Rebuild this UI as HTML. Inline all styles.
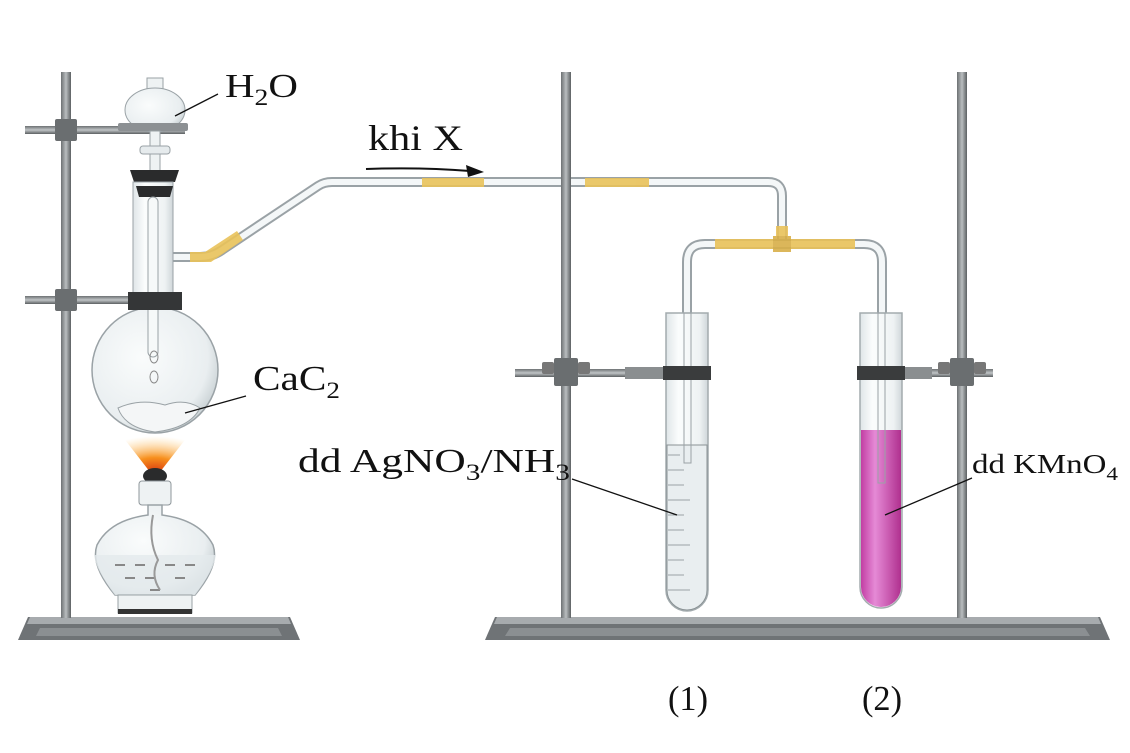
<!DOCTYPE html>
<html><head><meta charset="utf-8"><style>
html,body{margin:0;padding:0;background:#fff;}
svg{display:block;}
text{font-family:"Liberation Serif",serif;fill:#111;}
</style></head><body>
<svg width="1130" height="753" viewBox="0 0 1130 753" xmlns="http://www.w3.org/2000/svg">
<defs>
<linearGradient id="rod" x1="0" x2="1"><stop offset="0" stop-color="#6d7173"/><stop offset=".5" stop-color="#b9bdbf"/><stop offset="1" stop-color="#5c6062"/></linearGradient>
<linearGradient id="hrod" x1="0" y1="0" x2="0" y2="1"><stop offset="0" stop-color="#6d7173"/><stop offset=".5" stop-color="#c0c4c6"/><stop offset="1" stop-color="#5c6062"/></linearGradient>
<linearGradient id="glass" x1="0" x2="1"><stop offset="0" stop-color="#dfe5e8"/><stop offset=".3" stop-color="#fbfdfd"/><stop offset=".8" stop-color="#eef2f3"/><stop offset="1" stop-color="#cfd6d9"/></linearGradient>
<linearGradient id="pink" x1="0" x2="1"><stop offset="0" stop-color="#c23ea3"/><stop offset=".35" stop-color="#e58ad6"/><stop offset="1" stop-color="#b0308f"/></linearGradient>
<radialGradient id="flask" cx=".4" cy=".4" r=".65"><stop offset="0" stop-color="#fafcfc"/><stop offset=".8" stop-color="#e9eef0"/><stop offset="1" stop-color="#c9d1d4"/></radialGradient>
<radialGradient id="flame" cx=".5" cy="1" r="1"><stop offset="0" stop-color="#d83a10"/><stop offset=".4" stop-color="#f7901e"/><stop offset="1" stop-color="#ffd58a" stop-opacity="0"/></radialGradient>
</defs>

<path d="M28 617 L290 617 L300 640 L18 640 Z" fill="#6f7376"/>
<path d="M30 617 L288 617 L291 624 L27 624 Z" fill="#a7abae"/>
<path d="M40 628 L278 628 L282 636 L36 636 Z" fill="#8b8f92"/>
<rect x="61" y="72" width="10" height="546" fill="url(#rod)"/>
<rect x="25" y="126" width="160" height="8" fill="url(#hrod)"/>
<rect x="55" y="119" width="22" height="22" rx="2" fill="#6a6e70"/>
<rect x="25" y="296" width="110" height="8" fill="url(#hrod)"/>
<rect x="55" y="289" width="22" height="22" rx="2" fill="#6a6e70"/>

<g fill="none" stroke-linecap="round" stroke-linejoin="round">
<path d="M173 257 L200 257 Q212 257 222 250 L318 186 Q324 182 332 182 L768 182 Q782 182 782 196 L782 244" stroke="#9aa2a6" stroke-width="10"/>
<path d="M173 257 L200 257 Q212 257 222 250 L318 186 Q324 182 332 182 L768 182 Q782 182 782 196 L782 244" stroke="#f4f7f8" stroke-width="6"/>
<path d="M687 460 L687 262 Q687 244 705 244 L864 244 Q882 244 882 262 L882 480" stroke="#9aa2a6" stroke-width="10"/>
<path d="M687 460 L687 262 Q687 244 705 244 L864 244 Q882 244 882 262 L882 480" stroke="#f4f7f8" stroke-width="6"/>
</g>
<g fill="#e9c25a" opacity=".9">
<path d="M190 252 L205 252 L237 231 L243 240 L211 262 L190 262 Z"/>
<rect x="422" y="178" width="62" height="9"/>
<rect x="585" y="178" width="64" height="9"/>
<rect x="715" y="239" width="140" height="10"/>
<rect x="776" y="226" width="12" height="24"/>
<rect x="773" y="236" width="18" height="16" fill="#d9b04a"/>
</g>

<rect x="147" y="78" width="16" height="20" fill="#eef2f3" stroke="#9aa2a6"/>
<ellipse cx="155" cy="110" rx="30" ry="22" fill="url(#flask)" stroke="#9aa2a6"/>
<rect x="118" y="123" width="70" height="8" rx="2" fill="#8c9093"/>
<rect x="150" y="131" width="10" height="40" fill="#eef2f3" stroke="#9aa2a6"/>
<rect x="140" y="146" width="30" height="8" rx="3" fill="#e6ebed" stroke="#9aa2a6"/>
<path d="M130 170 L179 170 L175 182 L134 182 Z" fill="#2a2b2c"/>
<rect x="133" y="182" width="40" height="112" fill="url(#glass)" stroke="#9aa2a6"/>
<path d="M136 186 L173 186 L170 197 L139 197 Z" fill="#2a2b2c"/>
<rect x="148" y="197" width="10" height="160" rx="5" fill="#f6f9f9" stroke="#9aa2a6"/>
<circle cx="155" cy="370" r="63" fill="url(#flask)" stroke="#9aa2a6" stroke-width="1.5"/>
<rect x="148" y="300" width="10" height="57" rx="5" fill="#f6f9f9" stroke="#9aa2a6"/>
<rect x="128" y="292" width="54" height="18" fill="#343637"/>
<ellipse cx="154" cy="357" rx="4" ry="6" fill="none" stroke="#888"/>
<ellipse cx="154" cy="377" rx="4" ry="6" fill="none" stroke="#888"/>
<path d="M118 408 Q140 398 165 405 Q185 398 200 408 Q190 428 155 432 Q125 428 118 408 Z" fill="#f4f6f7" stroke="#9aa2a6"/>
<path d="M122 436 L188 436 L160 472 L150 472 Z" fill="url(#flame)"/>
<ellipse cx="155" cy="476" rx="12" ry="8" fill="#2a2b2c"/>
<rect x="139" y="481" width="32" height="24" rx="3" fill="#eef2f3" stroke="#8f979b"/>
<path d="M148 505 L148 515 Q110 520 97 545 Q90 565 115 595 L195 595 Q220 565 213 545 Q200 520 162 515 L162 505 Z" fill="url(#flask)" stroke="#9aa2a6" stroke-width="1.5"/>
<path d="M94 555 L216 555 Q214 570 195 595 L115 595 Q96 570 94 555 Z" fill="#e4eaec" opacity=".8"/>
<g stroke="#888" stroke-width="2"><line x1="115" y1="565" x2="125" y2="565"/><line x1="135" y1="565" x2="145" y2="565"/><line x1="165" y1="565" x2="175" y2="565"/><line x1="185" y1="565" x2="195" y2="565"/><line x1="125" y1="578" x2="135" y2="578"/><line x1="145" y1="578" x2="155" y2="578"/><line x1="175" y1="578" x2="185" y2="578"/><line x1="150" y1="590" x2="160" y2="590"/></g>
<path d="M153 515 Q148 540 158 560 Q150 575 160 590" fill="none" stroke="#999" stroke-width="2"/>
<rect x="118" y="595" width="74" height="18" fill="#eef2f3" stroke="#9aa2a6"/>
<rect x="118" y="609" width="74" height="5" fill="#333"/>

<path d="M495 617 L1100 617 L1110 640 L485 640 Z" fill="#6f7376"/>
<path d="M497 617 L1098 617 L1101 624 L494 624 Z" fill="#a7abae"/>
<path d="M510 628 L1085 628 L1090 636 L505 636 Z" fill="#8b8f92"/>
<rect x="561" y="72" width="10" height="546" fill="url(#rod)"/>
<rect x="957" y="72" width="10" height="546" fill="url(#rod)"/>
<rect x="515" y="369" width="155" height="8" fill="url(#hrod)"/>
<rect x="554" y="358" width="24" height="28" rx="2" fill="#6a6e70"/>
<rect x="542" y="362" width="12" height="12" rx="2" fill="#777"/><rect x="578" y="362" width="12" height="12" rx="2" fill="#777"/>
<rect x="625" y="367" width="45" height="12" fill="#8a8e90"/>
<rect x="900" y="369" width="93" height="8" fill="url(#hrod)"/>
<rect x="950" y="358" width="24" height="28" rx="2" fill="#6a6e70"/>
<rect x="938" y="362" width="12" height="12" rx="2" fill="#777"/><rect x="974" y="362" width="12" height="12" rx="2" fill="#777"/>
<rect x="900" y="367" width="32" height="12" fill="#8a8e90"/>

<path d="M666 313 L708 313 L708 590 A21 21 0 0 1 666 590 Z" fill="url(#glass)" stroke="#a3abae" stroke-width="1.5"/>
<path d="M667 445 L707 445 L707 590 A20 20 0 0 1 667 590 Z" fill="#e9eef0" stroke="#8a9295"/>
<g stroke="#9aa2a6" stroke-width="1"><line x1="668" y1="455" x2="680" y2="455"/><line x1="668" y1="470" x2="684" y2="470"/><line x1="668" y1="485" x2="684" y2="485"/><line x1="668" y1="500" x2="690" y2="500"/><line x1="668" y1="515" x2="684" y2="515"/><line x1="668" y1="530" x2="684" y2="530"/><line x1="668" y1="545" x2="690" y2="545"/><line x1="668" y1="560" x2="684" y2="560"/><line x1="668" y1="575" x2="684" y2="575"/><line x1="668" y1="590" x2="690" y2="590"/></g>
<rect x="684" y="313" width="7" height="150" fill="none" stroke="#9aa2a6"/>
<rect x="663" y="366" width="48" height="14" fill="#3a3c3d"/>
<path d="M860 313 L902 313 L902 587 A21 21 0 0 1 860 587 Z" fill="url(#glass)" stroke="#a3abae" stroke-width="1.5"/>
<path d="M861 430 L901 430 L901 587 A20 20 0 0 1 861 587 Z" fill="url(#pink)"/>
<rect x="878" y="313" width="7" height="170" fill="none" stroke="#9aa2a6"/>
<rect x="857" y="366" width="48" height="14" fill="#3a3c3d"/>

<g stroke="#111" stroke-width="1.3">
<line x1="218" y1="94" x2="175" y2="116"/>
<line x1="246" y1="396" x2="185" y2="413"/>
<line x1="572" y1="479" x2="677" y2="515"/>
<line x1="972" y1="478" x2="885" y2="515"/>
</g>
<text x="225" y="97" font-size="34" textLength="73" lengthAdjust="spacingAndGlyphs">H<tspan font-size="23" dy="8">2</tspan><tspan dy="-8">O</tspan></text>
<text x="253" y="390" font-size="35" textLength="87" lengthAdjust="spacingAndGlyphs">CaC<tspan font-size="23" dy="8">2</tspan></text>
<text x="298" y="472" font-size="34" textLength="272" lengthAdjust="spacingAndGlyphs">dd AgNO<tspan font-size="23" dy="8">3</tspan><tspan dy="-8">/NH</tspan><tspan font-size="23" dy="8">3</tspan></text>
<text x="972" y="473" font-size="27" textLength="146" lengthAdjust="spacingAndGlyphs">dd KMnO<tspan font-size="19" dy="7">4</tspan></text>
<text x="368" y="150" font-size="36" textLength="95" lengthAdjust="spacingAndGlyphs">khi X</text>
<path d="M366 169 Q420 167 470 171" fill="none" stroke="#111" stroke-width="2"/>
<path d="M484 172 L466 165 L468 177 Z" fill="#111"/>
<text x="668" y="710" font-size="35" textLength="40" lengthAdjust="spacingAndGlyphs">(1)</text>
<text x="862" y="710" font-size="35" textLength="40" lengthAdjust="spacingAndGlyphs">(2)</text>
</svg>
</body></html>
